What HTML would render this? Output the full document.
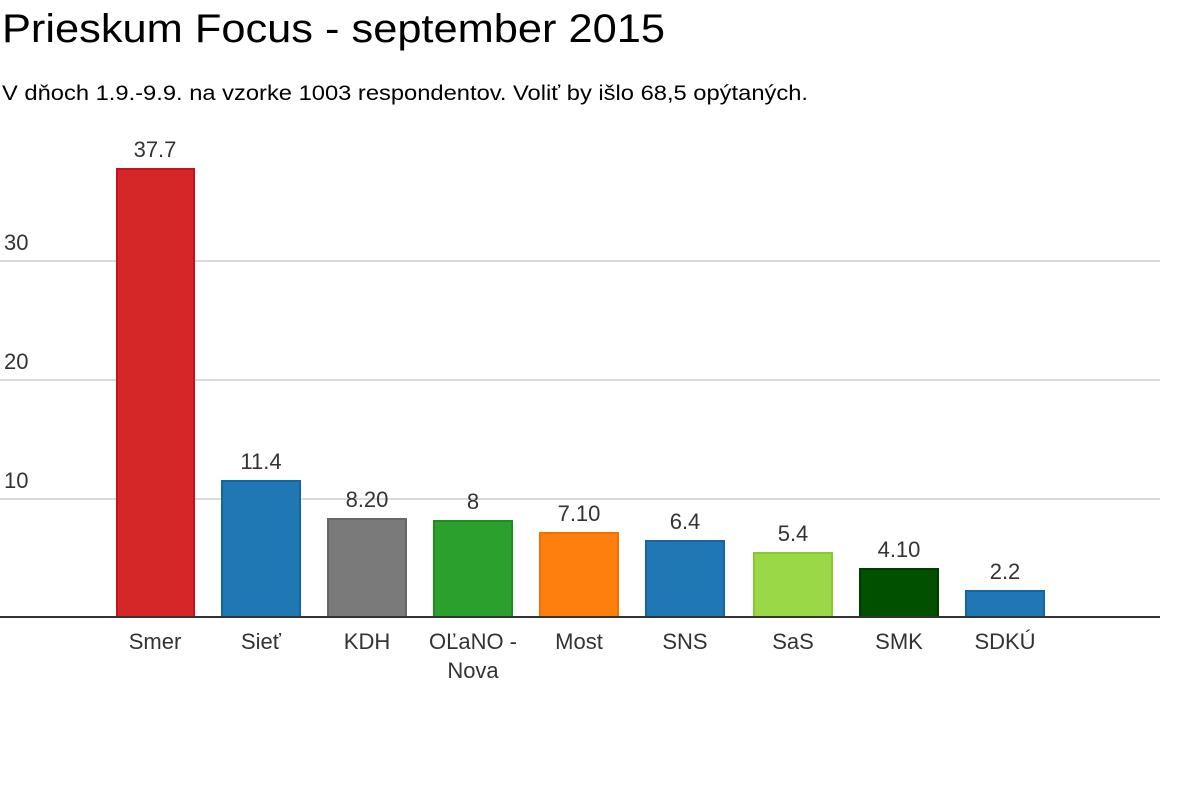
<!DOCTYPE html>
<html><head><meta charset="utf-8"><style>body{margin:0;background:#fff}svg{display:block}text{font-family:"Liberation Sans",sans-serif}</style></head><body>
<svg width="1200" height="800" viewBox="0 0 1200 800">
<text x="2" y="42" font-size="40" fill="#000" textLength="663" lengthAdjust="spacingAndGlyphs">Prieskum Focus - september 2015</text>
<text x="2" y="100" font-size="21" fill="#000" textLength="806" lengthAdjust="spacingAndGlyphs">V dňoch 1.9.-9.9. na vzorke 1003 respondentov. Voliť by išlo 68,5 opýtaných.</text>
<g stroke="#d9d9d9" stroke-width="2">
<line x1="0" y1="261" x2="1160" y2="261"/><line x1="0" y1="380" x2="1160" y2="380"/><line x1="0" y1="499" x2="1160" y2="499"/>
</g>
<g font-size="22" fill="#333">
<text x="4" y="250">30</text><text x="4" y="369">20</text><text x="4" y="488">10</text>
</g>
<g stroke-width="2">
<rect x="117" y="169" width="77" height="448" fill="#d62728" stroke="#c8101e"/>
<rect x="222" y="481" width="78" height="136" fill="#1f77b4" stroke="#1565a0"/>
<rect x="328" y="519" width="78" height="98" fill="#7a7a7a" stroke="#666"/>
<rect x="434" y="521" width="78" height="96" fill="#2ca02c" stroke="#1e8f1e"/>
<rect x="540" y="533" width="78" height="84" fill="#ff7f0e" stroke="#f07000"/>
<rect x="646" y="541" width="78" height="76" fill="#1f77b4" stroke="#1565a0"/>
<rect x="754" y="553" width="78" height="64" fill="#9bd848" stroke="#88c830"/>
<rect x="860" y="569" width="78" height="48" fill="#005000" stroke="#003d00"/>
<rect x="966" y="591" width="78" height="26" fill="#1f77b4" stroke="#1565a0"/>
</g>
<line x1="0" y1="617" x2="1160" y2="617" stroke="#333" stroke-width="2"/>
<g font-size="22" fill="#333" text-anchor="middle">
<text x="155" y="157">37.7</text><text x="261" y="469">11.4</text><text x="367" y="507">8.20</text><text x="473" y="509">8</text><text x="579" y="521">7.10</text><text x="685" y="529">6.4</text><text x="793" y="541">5.4</text><text x="899" y="557">4.10</text><text x="1005" y="579">2.2</text>
<text x="155" y="649">Smer</text><text x="261" y="649">Sieť</text><text x="367" y="649">KDH</text><text x="473" y="649">OĽaNO -</text><text x="473" y="678">Nova</text><text x="579" y="649">Most</text><text x="685" y="649">SNS</text><text x="793" y="649">SaS</text><text x="899" y="649">SMK</text><text x="1005" y="649">SDKÚ</text>
</g>
</svg>
</body></html>
